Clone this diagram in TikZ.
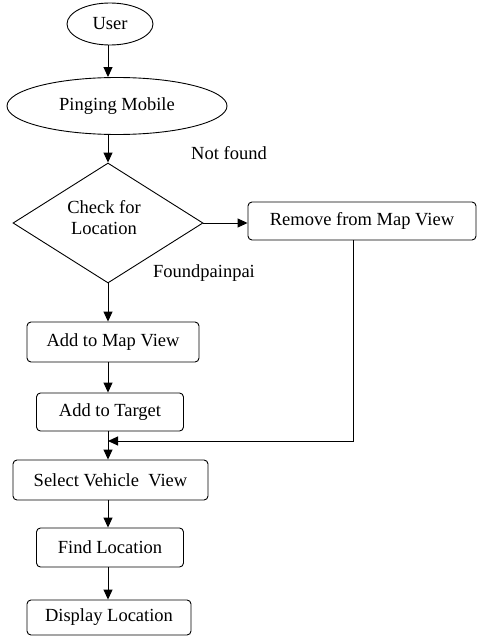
\documentclass[tikz,border=0pt]{standalone}
\usepackage{fontspec}
\setmainfont{Liberation Serif}
\newfontfamily\tnrfont{Liberation Serif}
\usetikzlibrary{shapes.geometric,arrows.meta}
\begin{document}
\begin{tikzpicture}[x=1pt,y=-1pt,
  every node/.style={font=\tnrfont\fontsize{18.5}{21}\selectfont},
  oval/.style={draw,ellipse,line width=0.9pt,inner sep=0pt},
  procbox/.style={draw,rounded corners=4pt,line width=0.9pt,inner sep=0pt},
  decide/.style={draw,diamond,line width=0.9pt,inner sep=0pt,align=center},
  arr/.style={line width=1pt,-{Triangle[length=10pt,width=9pt]}},
  lbl/.style={inner sep=0pt}]
\useasboundingbox (0,0) rectangle (477,637);
\node[oval,minimum width=86pt,minimum height=42pt] (user) at (110,24) {User};
\node[oval,minimum width=220pt,minimum height=57pt] (ping) at (117,106) {Pinging Mobile};
\node[decide,minimum width=190pt,minimum height=120pt] (check) at (108,223) {};
\node[lbl,align=center] (checktxt) at (104,218) {Check for\\Location};
\node[procbox,minimum width=228pt,minimum height=38pt] (remove) at (362,221) {Remove from Map View};
\node[procbox,minimum width=172pt,minimum height=40pt] (addmap) at (113,342) {Add to Map View};
\node[procbox,minimum width=147pt,minimum height=38pt] (target) at (110,412) {Add to Target};
\node[procbox,minimum width=195pt,minimum height=40pt] (select) at (110.5,480) {Select Vehicle~ View};
\node[procbox,minimum width=147pt,minimum height=39pt] (find) at (110,547.5) {Find Location};
\node[procbox,minimum width=164pt,minimum height=35pt] (display) at (109,617.5) {Display Location};
\node[lbl] (notfound) at (229,153) {Not found};
\node[lbl] (found) at (204,273) {Foundpainpai};
\coordinate (turn) at (353,441);
\coordinate (join) at (108,441);
\draw[arr] (user.south -| check.north) -- (ping.north -| check.north);
\draw[arr] (ping.south -| check.north) -- (check.north);
\draw[arr] (check.east) -- (check.east -| remove.west);
\draw[arr] (check.south) -- (addmap.north -| check.south);
\draw[arr] (addmap.south -| check.south) -- (target.north -| check.south);
\draw[arr] (target.south -| check.south) -- (select.north -| check.south);
\draw[arr] (select.south -| check.south) -- (find.north -| check.south);
\draw[arr] (find.south -| check.south) -- (display.north -| check.south);
\draw[arr] (remove.south -| turn) -- (turn) -- (join);
\end{tikzpicture}
\end{document}
